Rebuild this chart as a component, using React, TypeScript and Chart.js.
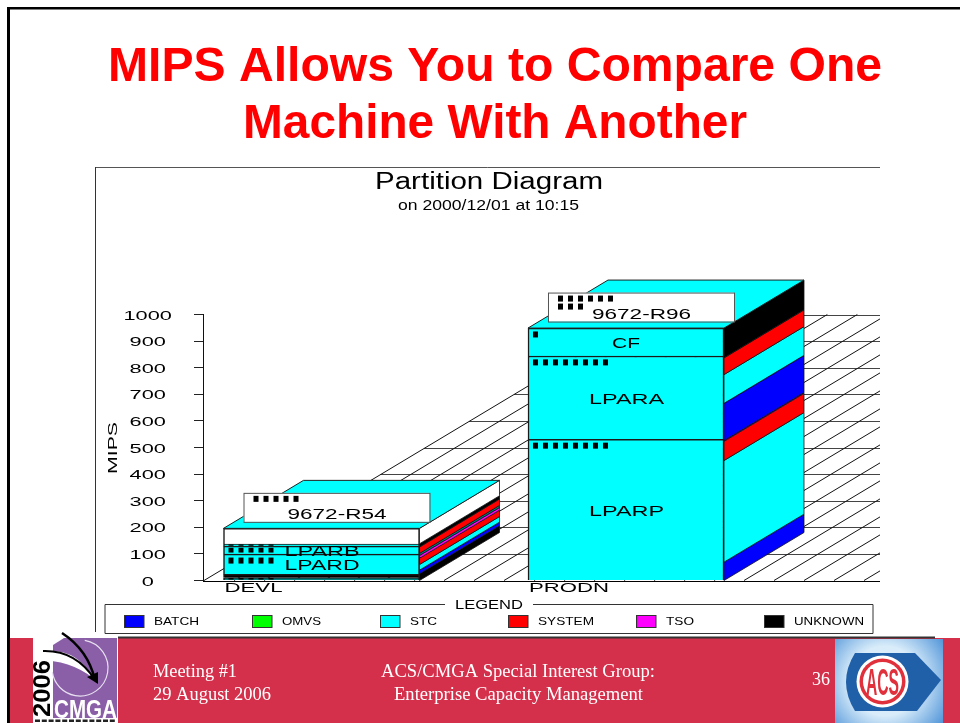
import React, { useEffect, useRef } from "react";
import { Chart, registerables } from "chart.js";

Chart.register(...registerables);

const categories = ["DEVL", "PRODN"];
const machines = ["9672-R54", "9672-R96"];
const machineMarks = [[5], [6, 3]];

const CYAN = "#00FFFF";
const BLUE = "#0000FF";
const RED = "#FF0000";
const MAGENTA = "#FF00FF";
const BLACK = "#000000";
const WHITE = "#FFFFFF";
const TEAL = "#007F7F";
const GREEN = "#00FF00";

// Front face: partitions, stacked bottom to top, [DEVL, PRODN]
const partition1 = [11, 531];
const partition2 = [12, 313];
const partition3 = [76, 105];
const partition4 = [30, null];
const partition5 = [8, null];
const partition6 = [59, null];
const partitionRows = [partition1, partition2, partition3, partition4, partition5, partition6];
const partitionColors = [
  [TEAL, CYAN],
  [BLACK, CYAN],
  [CYAN, CYAN],
  [CYAN, CYAN],
  [CYAN, CYAN],
  [WHITE, WHITE],
];
const partitionLabels = [
  ["", "LPARP"],
  ["", "LPARA"],
  ["LPARD", "CF"],
  ["LPARB", ""],
  ["", ""],
  ["", ""],
];
const partitionMarks = [
  [5, 8],
  [0, 8],
  [5, 1],
  [5, 0],
  [5, 0],
  [0, 0],
];

// Side face: workloads, stacked bottom to top
const devlSideValues = [25, 14, 21, 24, 10, 8, 24, 12, 58];
const devlSideColors = [BLACK, BLUE, CYAN, RED, MAGENTA, TEAL, RED, BLACK, WHITE];
const prodnSideValues = [69, 382, 72, 3, 140, 108, 63, 112];
const prodnSideColors = [BLUE, CYAN, RED, MAGENTA, BLUE, CYAN, RED, BLACK];

const legendNames = ["BATCH", "OMVS", "STC", "SYSTEM", "TSO", "UNKNOWN"];
const legendColors = [BLUE, GREEN, CYAN, RED, MAGENTA, BLACK];
const legendSwatchX = [124, 252, 380, 508, 636, 764];
const legendTextEnds = [199, 321, 437, 594, 694, 864];

const DEPTH_X = 80;
const DEPTH_Y = 48;
const SANS = '"Liberation Sans", Arial, sans-serif';
const SERIF = '"Liberation Serif", "Times New Roman", serif';
const FOOTER = "#D5304B";

function fit(ctx: any, text: string, x0: number, x1: number, base: number, font: string, color: string) {
  ctx.save();
  ctx.font = font;
  ctx.fillStyle = color;
  ctx.textAlign = "left";
  ctx.textBaseline = "alphabetic";
  const m = ctx.measureText(text).width;
  ctx.translate(x0, base);
  ctx.scale((x1 - x0) / m, 1);
  ctx.fillText(text, 0, 0);
  ctx.restore();
}

function line(ctx: any, x0: number, y0: number, x1: number, y1: number, color: string, w = 1) {
  ctx.save();
  ctx.strokeStyle = color;
  ctx.lineWidth = w;
  ctx.beginPath();
  ctx.moveTo(x0, y0);
  ctx.lineTo(x1, y1);
  ctx.stroke();
  ctx.restore();
}

function drawCmgaLogo(ctx: any) {
  ctx.save();
  ctx.fillStyle = WHITE;
  ctx.fillRect(33, 632, 85, 91);
  ctx.fillStyle = "#8A5FA8";
  ctx.beginPath();
  ctx.moveTo(53, 645);
  ctx.lineTo(64, 638);
  ctx.lineTo(117, 638);
  ctx.lineTo(117, 718);
  ctx.lineTo(53, 718);
  ctx.closePath();
  ctx.fill();
  ctx.fillStyle = WHITE;
  ctx.beginPath();
  ctx.moveTo(38, 652);
  ctx.quadraticCurveTo(75, 645, 93, 678);
  ctx.quadraticCurveTo(70, 660, 38, 660);
  ctx.closePath();
  ctx.fill();
  ctx.strokeStyle = "#E8E0F0";
  ctx.lineWidth = 1.2;
  ctx.beginPath();
  ctx.arc(80, 668, 28, -1.4, 3.0);
  ctx.stroke();
  ctx.strokeStyle = BLACK;
  ctx.lineWidth = 2.5;
  ctx.beginPath();
  ctx.moveTo(62, 633);
  ctx.quadraticCurveTo(88, 650, 95, 680);
  ctx.stroke();
  ctx.lineWidth = 2;
  ctx.beginPath();
  ctx.moveTo(43, 651);
  ctx.quadraticCurveTo(76, 650, 95, 680);
  ctx.stroke();
  ctx.fillStyle = BLACK;
  ctx.beginPath();
  ctx.moveTo(98, 684);
  ctx.lineTo(87, 677);
  ctx.lineTo(98, 672);
  ctx.closePath();
  ctx.fill();
  ctx.save();
  ctx.translate(50, 717);
  ctx.rotate(-Math.PI / 2);
  fit(ctx, "2006", 0, 57, 0, `bold 24px ${SANS}`, BLACK);
  ctx.restore();
  fit(ctx, "CMGA", 54, 117, 718, `bold 25px ${SANS}`, WHITE);
  ctx.fillStyle = "#222";
  for (let i = 0; i < 12; i++) ctx.fillRect(35 + i * 6.8, 719.5, 5, 2.5);
  ctx.restore();
}

function drawAcsLogo(ctx: any) {
  ctx.save();
  const g = ctx.createRadialGradient(885, 681, 35, 885, 681, 72);
  g.addColorStop(0, "#D8ECFA");
  g.addColorStop(1, "#4F94D8");
  ctx.fillStyle = g;
  ctx.fillRect(835, 639, 108, 84);
  ctx.fillStyle = "#2060A8";
  ctx.beginPath();
  ctx.moveTo(855, 653);
  ctx.lineTo(915, 653);
  ctx.lineTo(941, 680);
  ctx.lineTo(917, 711);
  ctx.lineTo(855, 711);
  ctx.quadraticCurveTo(837, 682, 855, 653);
  ctx.closePath();
  ctx.fill();
  const circle = (r: number, c: string) => {
    ctx.fillStyle = c;
    ctx.beginPath();
    ctx.arc(882.5, 681.5, r, 0, Math.PI * 2);
    ctx.fill();
  };
  circle(26, WHITE);
  circle(23, "#E0303C");
  circle(19.5, WHITE);
  fit(ctx, "ACS", 866, 899, 695, `bold 36px ${SANS}`, "#E0303C");
  ctx.restore();
}

const slideChrome = {
  id: "slideChrome",
  beforeDraw(chart: any) {
    const { ctx, width, height } = chart;
    ctx.save();
    ctx.fillStyle = WHITE;
    ctx.fillRect(0, 0, width, height);
    ctx.fillStyle = BLACK;
    ctx.fillRect(7, 7, width - 7, 2.5);
    ctx.fillRect(7, 7, 3, height - 7);
    fit(ctx, "MIPS Allows You to Compare One", 108, 882, 81, `bold 48px ${SANS}`, RED);
    fit(ctx, "Machine With Another", 243, 747, 138, `bold 48px ${SANS}`, RED);
    line(ctx, 95.5, 167.5, 880, 167.5, "#555");
    line(ctx, 95.5, 167, 95.5, 638, "#333");
    fit(ctx, "Partition Diagram", 375, 603, 189, `23px ${SANS}`, BLACK);
    fit(ctx, "on 2000/12/01 at 10:15", 398, 579, 210, `14px ${SANS}`, BLACK);
    ctx.save();
    ctx.translate(117, 474);
    ctx.rotate(-Math.PI / 2);
    fit(ctx, "MIPS", 0, 52, 0, `13px ${SANS}`, BLACK);
    ctx.restore();
    // footer
    ctx.fillStyle = FOOTER;
    ctx.fillRect(10, 638, width - 10, height - 638);
    line(ctx, 96, 637.5, 935, 637.5, "#333", 2);
    fit(ctx, "Meeting #1", 153, 237, 677, `18px ${SERIF}`, WHITE);
    fit(ctx, "29 August 2006", 153, 271, 700, `18px ${SERIF}`, WHITE);
    fit(ctx, "ACS/CMGA Special Interest Group:", 381, 655, 677, `18px ${SERIF}`, WHITE);
    fit(ctx, "Enterprise Capacity Management", 394, 643, 700, `18px ${SERIF}`, WHITE);
    fit(ctx, "36", 812, 830, 685, `18px ${SERIF}`, WHITE);
    drawCmgaLogo(ctx);
    drawAcsLogo(ctx);
    // legend
    const top = 604;
    const bottom = 633.5;
    ctx.strokeStyle = "#333";
    ctx.lineWidth = 1;
    ctx.beginPath();
    ctx.moveTo(445, top + 0.5);
    ctx.lineTo(105, top + 0.5);
    ctx.lineTo(105, bottom);
    ctx.lineTo(873, bottom);
    ctx.lineTo(873, top + 0.5);
    ctx.lineTo(533, top + 0.5);
    ctx.stroke();
    fit(ctx, "LEGEND", 455, 523, 609, `12px ${SANS}`, BLACK);
    legendNames.forEach((name, i) => {
      const x = legendSwatchX[i];
      ctx.fillStyle = legendColors[i];
      ctx.fillRect(x, 615, 20, 12.5);
      ctx.strokeStyle = "#333";
      ctx.strokeRect(x + 0.5, 615.5, 19.5, 12);
      fit(ctx, name, x + 30, legendTextEnds[i], 625, `11.5px ${SANS}`, BLACK);
    });
    ctx.restore();
  },
};

const floorGrid = {
  id: "floorGrid",
  beforeDatasetsDraw(chart: any) {
    const { ctx, scales, chartArea } = chart;
    const y = scales.y;
    const y0 = y.getPixelForValue(0);
    const yTop = y.getPixelForValue(1000);
    const slope = DEPTH_X / DEPTH_Y;
    const left = chartArea.left + 1;
    const right = chartArea.right;
    ctx.save();
    y.ticks.forEach((t: any) => {
      const py = Math.round(y.getPixelForValue(t.value)) + 0.5;
      const sx = left + slope * (y0 - py);
      line(ctx, t.value === 0 ? chartArea.left : sx, py, right, py, t.value === 0 ? BLACK : "#444");
    });
    for (let i = 0; ; i++) {
      const x0 = left + i * 30;
      if (x0 >= right) break;
      let x1 = x0 + slope * (y0 - yTop);
      let y1 = yTop;
      if (x1 > right) {
        x1 = right;
        y1 = y0 - (right - x0) / slope;
      }
      line(ctx, x0, y0, x1, y1, "#111");
    }
    ctx.restore();
  },
};

const boxes3d = {
  id: "boxes3d",
  afterDatasetsDraw(chart: any) {
    const { ctx, scales } = chart;
    const y = scales.y;
    const sides = [
      { v: devlSideValues, c: devlSideColors },
      { v: prodnSideValues, c: prodnSideColors },
    ];
    ctx.save();
    categories.forEach((cat, ci) => {
      const bar = chart.getDatasetMeta(0).data[ci];
      const left = bar.x - bar.width / 2;
      const right = bar.x + bar.width / 2;
      // side face
      let acc = 0;
      sides[ci].v.forEach((v, k) => {
        const a = y.getPixelForValue(acc);
        const b = y.getPixelForValue(acc + v);
        acc += v;
        ctx.fillStyle = sides[ci].c[k];
        ctx.strokeStyle = "#111";
        ctx.lineWidth = 0.8;
        ctx.beginPath();
        ctx.moveTo(right, a);
        ctx.lineTo(right + DEPTH_X, a - DEPTH_Y);
        ctx.lineTo(right + DEPTH_X, b - DEPTH_Y);
        ctx.lineTo(right, b);
        ctx.closePath();
        ctx.fill();
        ctx.stroke();
      });
      // top face
      const total = partitionRows.reduce((s, r) => s + (r[ci] ?? 0), 0);
      const top = y.getPixelForValue(total);
      ctx.fillStyle = CYAN;
      ctx.strokeStyle = "#222";
      ctx.lineWidth = 1;
      ctx.beginPath();
      ctx.moveTo(left, top);
      ctx.lineTo(left + DEPTH_X, top - DEPTH_Y);
      ctx.lineTo(right + DEPTH_X, top - DEPTH_Y);
      ctx.lineTo(right, top);
      ctx.closePath();
      ctx.fill();
      ctx.stroke();
      // machine plate
      const px = left + 20;
      const py = top - 35.5;
      ctx.fillStyle = WHITE;
      ctx.fillRect(px, py, 186, 29);
      ctx.strokeStyle = "#555";
      ctx.strokeRect(px + 0.5, py + 0.5, 186, 29);
      fit(ctx, machines[ci], px + 44, px + 143, py + 26.5, `14.5px ${SANS}`, BLACK);
      ctx.fillStyle = BLACK;
      machineMarks[ci].forEach((n, row) => {
        for (let m = 0; m < n; m++) ctx.fillRect(px + 10 + m * 10, py + 3 + row * 8, 5, 6);
      });
      // partition marks and labels
      partitionRows.forEach((_, di) => {
        const b = chart.getDatasetMeta(di).data[ci];
        if (partitionRows[di][ci] == null) return;
        const h = b.base - b.y;
        const mh = Math.min(6, h * 0.6);
        const off = Math.min(3.4, h * 0.2);
        ctx.fillStyle = BLACK;
        for (let m = 0; m < partitionMarks[di][ci]; m++) ctx.fillRect(left + 5 + m * 10, b.y + off, 5, mh);
        const label = partitionLabels[di][ci];
        if (label) {
          const mid = (b.y + b.base) / 2 + 6;
          if (label === "CF") fit(ctx, label, bar.x - 14, bar.x + 14, mid, `14.5px ${SANS}`, BLACK);
          else fit(ctx, label, left + 61, left + 136, mid, `14.5px ${SANS}`, BLACK);
        }
      });
      // category label
      const catEnds = [59, 81];
      fit(ctx, cat, left + 1, left + catEnds[ci], 592, `13.5px ${SANS}`, BLACK);
    });
    // y tick labels
    y.ticks.forEach((t: any) => {
      const s = String(t.value);
      const py = y.getPixelForValue(t.value);
      const w = s.length * 12.1;
      fit(ctx, s, 147.7 - w / 2, 147.7 + w / 2, py + 5, `13px ${SANS}`, BLACK);
    });
    ctx.restore();
  },
};

export default function App() {
  const ref = useRef<HTMLCanvasElement | null>(null);
  useEffect(() => {
    const chart = new Chart(ref.current as HTMLCanvasElement, {
      type: "bar",
      data: {
        datasets: partitionRows.map((row, di) => ({
          label: `Partition ${di + 1}`,
          data: row.map((v, ci) => ({ x: ci + 1, y: v })),
          backgroundColor: partitionColors[di],
          borderColor: "#1a1a1a",
          borderWidth: 1.5,
          barThickness: 196,
        })),
      } as any,
      options: {
        responsive: false,
        animation: false,
        layout: { padding: { top: 314.5, bottom: 142.5, left: 0, right: 80 } },
        plugins: { legend: { display: false }, title: { display: false }, tooltip: { enabled: false } },
        scales: {
          x: {
            type: "linear",
            stacked: true,
            display: false,
            offset: false,
            min: 0.6108,
            max: 2.8342,
          },
          y: {
            stacked: true,
            min: 0,
            max: 1000,
            afterFit: (s: any) => {
              s.width = 203;
            },
            ticks: { stepSize: 100, display: false },
            grid: { drawOnChartArea: false, drawTicks: true, tickLength: 9, color: "#222" },
            border: { display: true, color: "#111" },
          },
        },
      } as any,
      plugins: [slideChrome, floorGrid, boxes3d],
    });
    return () => chart.destroy();
  }, []);
  return (
    <canvas
      ref={ref}
      width={960}
      height={723}
      style={{ position: "absolute", left: 0, top: 0, display: "block" }}
    />
  );
}
